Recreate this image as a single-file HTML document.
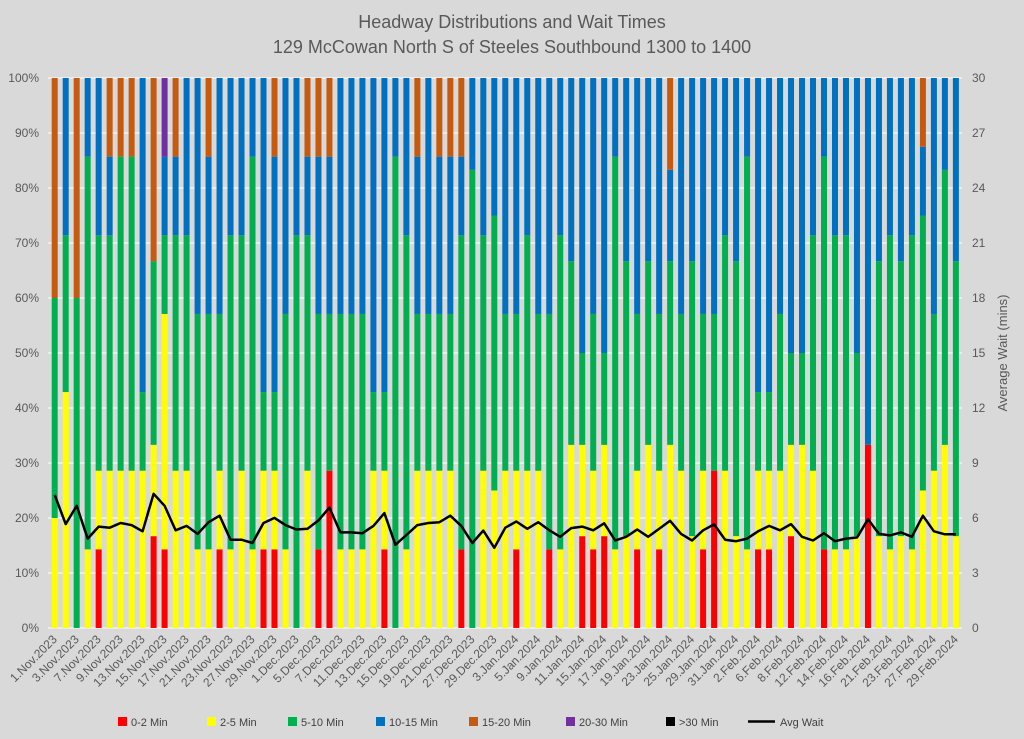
<!DOCTYPE html>
<html><head><meta charset="utf-8"><style>
body{margin:0;background:#d9d9d9;}
svg{display:block;font-family:"Liberation Sans",sans-serif;}
</style></head><body>
<svg id="c" width="1024" height="739" xmlns="http://www.w3.org/2000/svg">
<rect width="1024" height="739" fill="#d9d9d9"/>
<text x="512" y="28" text-anchor="middle" font-size="18" fill="#595959">Headway Distributions and Wait Times</text>
<text x="512" y="53" text-anchor="middle" font-size="18" fill="#595959">129 McCowan North  S of Steeles Southbound 1300 to 1400</text>
<g id="grid"></g>
<g id="bars"></g>
<polyline id="avg" fill="none" stroke="#000" stroke-width="2.5" stroke-linejoin="round"/>
<g font-size="12" fill="#595959" text-anchor="end">
<text x="39" y="82">100%</text><text x="39" y="137">90%</text><text x="39" y="192">80%</text><text x="39" y="247">70%</text><text x="39" y="302">60%</text><text x="39" y="357">50%</text><text x="39" y="412">40%</text><text x="39" y="467">30%</text><text x="39" y="522">20%</text><text x="39" y="577">10%</text><text x="39" y="632">0%</text>
</g>
<g font-size="12" fill="#595959" text-anchor="start">
<text x="972" y="82">30</text><text x="972" y="137">27</text><text x="972" y="192">24</text><text x="972" y="247">21</text><text x="972" y="302">18</text><text x="972" y="357">15</text><text x="972" y="412">12</text><text x="972" y="467">9</text><text x="972" y="522">6</text><text x="972" y="577">3</text><text x="972" y="632">0</text>
</g>
<text transform="translate(1007,353) rotate(-90)" text-anchor="middle" font-size="13" fill="#595959">Average Wait (mins)</text>
<g id="xl" font-size="12" fill="#595959" text-anchor="end">
<text>1.Nov.2023</text><text>3.Nov.2023</text><text>7.Nov.2023</text><text>9.Nov.2023</text><text>13.Nov.2023</text><text>15.Nov.2023</text><text>17.Nov.2023</text><text>21.Nov.2023</text><text>23.Nov.2023</text><text>27.Nov.2023</text><text>29.Nov.2023</text><text>1.Dec.2023</text><text>5.Dec.2023</text><text>7.Dec.2023</text><text>11.Dec.2023</text><text>13.Dec.2023</text><text>15.Dec.2023</text><text>19.Dec.2023</text><text>21.Dec.2023</text><text>27.Dec.2023</text><text>29.Dec.2023</text><text>3.Jan.2024</text><text>5.Jan.2024</text><text>9.Jan.2024</text><text>11.Jan.2024</text><text>15.Jan.2024</text><text>17.Jan.2024</text><text>19.Jan.2024</text><text>23.Jan.2024</text><text>25.Jan.2024</text><text>29.Jan.2024</text><text>31.Jan.2024</text><text>2.Feb.2024</text><text>6.Feb.2024</text><text>8.Feb.2024</text><text>12.Feb.2024</text><text>14.Feb.2024</text><text>16.Feb.2024</text><text>21.Feb.2024</text><text>23.Feb.2024</text><text>27.Feb.2024</text><text>29.Feb.2024</text>
</g>
<g font-size="11" fill="#404040">
<rect x="118" y="717" width="9" height="9" fill="#ff0000"/><text x="131" y="726">0-2 Min</text>
<rect x="207" y="717" width="9" height="9" fill="#ffff00"/><text x="220" y="726">2-5 Min</text>
<rect x="288" y="717" width="9" height="9" fill="#00b050"/><text x="301" y="726">5-10 Min</text>
<rect x="376" y="717" width="9" height="9" fill="#0070c0"/><text x="389" y="726">10-15 Min</text>
<rect x="469" y="717" width="9" height="9" fill="#c55a11"/><text x="482" y="726">15-20 Min</text>
<rect x="566" y="717" width="9" height="9" fill="#7030a0"/><text x="579" y="726">20-30 Min</text>
<rect x="666" y="717" width="9" height="9" fill="#000"/><text x="679" y="726">&gt;30 Min</text>
<line x1="748" y1="721.5" x2="775" y2="721.5" stroke="#000" stroke-width="2.5"/><text x="780" y="726">Avg Wait</text>
</g>
</svg>
<script>
var D=[
[0,20,60,60,100],[0,42.9,71.4,100,100],[0,0,60,60,100],[0,14.3,85.7,100,100],[14.3,28.6,71.4,100,100],
[0,28.6,71.4,85.7,100],[0,28.6,85.7,85.7,100],[0,28.6,85.7,85.7,100],[0,28.6,42.9,100,100],[16.7,33.3,66.7,66.7,100],
[14.3,57.1,71.4,85.7,85.7,100],[0,28.6,71.4,85.7,100],[0,28.6,71.4,100,100],[0,14.3,57.1,100,100],[0,14.3,57.1,85.7,100],
[14.3,28.6,57.1,100,100],[0,14.3,71.4,100,100],[0,28.6,71.4,100,100],[0,14.3,85.7,100,100],[14.3,28.6,42.9,100,100],
[14.3,28.6,42.9,85.7,100],[0,14.3,57.1,100,100],[0,0,71.4,100,100],[0,28.6,71.4,85.7,100],[14.3,14.3,57.1,85.7,100],
[28.6,28.6,57.1,85.7,100],[0,14.3,57.1,100,100],[0,14.3,57.1,100,100],[0,14.3,57.1,100,100],[0,28.6,42.9,100,100],
[14.3,28.6,42.9,100,100],[0,0,85.7,100,100],[0,14.3,71.4,100,100],[0,28.6,57.1,85.7,100],[0,28.6,57.1,100,100],
[0,28.6,57.1,85.7,100],[0,28.6,57.1,85.7,100],[14.3,14.3,71.4,85.7,100],[0,0,83.3,100,100],[0,28.6,71.4,100,100],
[0,25,75,100,100],[0,28.6,57.1,100,100],[14.3,28.6,57.1,100,100],[0,28.6,71.4,100,100],[0,28.6,57.1,100,100],
[14.3,14.3,57.1,100,100],[0,14.3,71.4,100,100],[0,33.3,66.7,100,100],[16.7,33.3,50,100,100],[14.3,28.6,57.1,100,100],
[16.7,33.3,50,100,100],[0,14.3,85.7,100,100],[0,16.7,66.7,100,100],[14.3,28.6,57.1,100,100],[0,33.3,66.7,100,100],
[14.3,28.6,57.1,100,100],[0,33.3,66.7,83.3,100],[0,28.6,57.1,100,100],[0,16.7,66.7,100,100],[14.3,28.6,57.1,100,100],
[28.6,28.6,57.1,100,100],[0,28.6,71.4,100,100],[0,16.7,66.7,100,100],[0,14.3,85.7,100,100],[14.3,28.6,42.9,100,100],
[14.3,28.6,42.9,100,100],[0,28.6,57.1,100,100],[16.7,33.3,50,100,100],[0,33.3,50,100,100],[0,28.6,71.4,100,100],
[14.3,14.3,85.7,100,100],[0,14.3,71.4,100,100],[0,14.3,71.4,100,100],[0,16.7,50,100,100],[33.3,33.3,33.3,100,100],
[0,16.7,66.7,100,100],[0,14.3,71.4,100,100],[0,16.7,66.7,100,100],[0,14.3,71.4,100,100],[0,25,75,87.5,100],
[0,28.6,57.1,100,100],[0,33.3,83.3,100,100],[0,16.7,66.7,100,100]];
var Z=[1165,1245,1195,1285,1252,1255,1242,1248,1265,1162,1195,1262,1250,1272,1240,1222,1288,1288,1297,1242,1228,1248,1260,1258,1235,1200,1268,1268,1270,1250,1215,1302,1275,1248,1242,1240,1222,1250,1297,1263,1310,1255,1238,1258,1240,1262,1280,1256,1252,1262,1243,1290,1280,1260,1280,1258,1236,1272,1290,1262,1246,1288,1292,1285,1265,1250,1262,1245,1280,1290,1270,1292,1285,1282,1232,1272,1276,1268,1280,1222,1265,1273,1273];
var C=["#ff0000","#ffff00","#00b050","#0070c0","#c55a11","#7030a0"];
var NS="http://www.w3.org/2000/svg";
function el(t,a,p){var e=document.createElementNS(NS,t);for(var k in a)e.setAttribute(k,a[k]);p.appendChild(e);return e;}
var g=document.getElementById("grid");
for(var i=0;i<=10;i++){var y=78+i*55;el("line",{x1:48,x2:962,y1:y,y2:y,stroke:"#fff","stroke-width":1},g);}
var b=document.getElementById("bars");
function Y(p){return 628-p*5.5;}
function X(i){return 54.7+i*10.99;}
var pts=[];
D.forEach(function(d,i){var prev=0;var x=X(i);
 d.forEach(function(v,j){if(v>prev){el("rect",{x:x-3,y:Y(v),width:6,height:(v-prev)*5.5,fill:C[j]},b);}prev=Math.max(prev,v);});
 var pct=(1530-Z[i])/1508*100;pts.push(x.toFixed(1)+","+Y(pct).toFixed(1));});
document.getElementById("avg").setAttribute("points",pts.join(" "));
var xl=document.getElementById("xl").children;
for(var k=0;k<xl.length;k++){var x=X(k*2)+3;xl[k].setAttribute("transform","translate("+x+",640) rotate(-45)");}
</script>
</body></html>
